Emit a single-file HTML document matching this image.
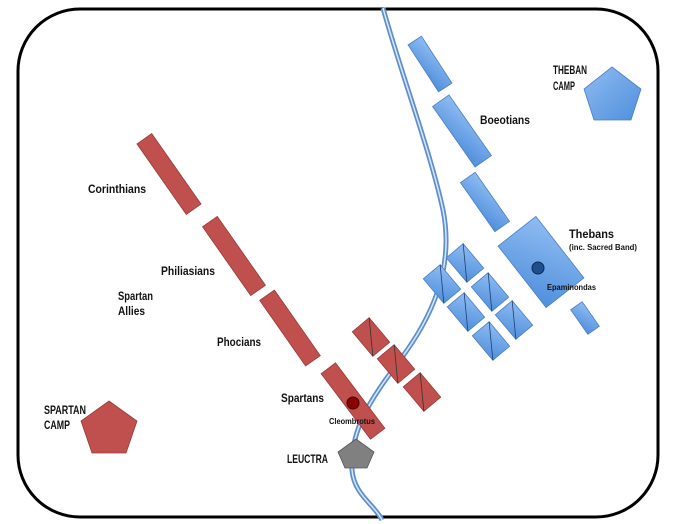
<!DOCTYPE html>
<html><head><meta charset="utf-8"><style>
html,body{margin:0;padding:0;background:#fff;}
svg{display:block;}
text{font-family:"Liberation Sans",sans-serif;font-weight:bold;fill:#111;}
</style></head><body>
<svg width="674" height="524" viewBox="0 0 674 524" xmlns="http://www.w3.org/2000/svg">
<defs>
<linearGradient id="bl" x1="0" y1="0" x2="1" y2="1"><stop offset="0" stop-color="#8fbcf2"/><stop offset="1" stop-color="#4f8fdc"/></linearGradient>
</defs>
<rect x="18" y="9" width="640" height="508" rx="62" fill="#fff" stroke="#000" stroke-width="3"/>
<g fill="none">
<path d="M383,8 C400,70 430,150 443,210 C455,270 430,320 400,360 C370,400 350,430 352,470 C354,495 375,505 382,520" stroke="#5b8fd0" stroke-width="5"/>
<path d="M383,8 C400,70 430,150 443,210 C455,270 430,320 400,360 C370,400 350,430 352,470 C354,495 375,505 382,520" stroke="#dce8f7" stroke-width="1.5"/>
</g>
<g fill="#c0504d" stroke="#9a3b39" stroke-width="0.8">
<rect x="-43" y="-9" width="86" height="18" transform="translate(169,174) rotate(55)"/>
<rect x="-42" y="-9" width="84" height="18" transform="translate(234,256) rotate(55)"/>
<rect x="-40" y="-9" width="80" height="18" transform="translate(290,328) rotate(55)"/>
<rect x="-41" y="-9" width="82" height="18" transform="translate(353,401) rotate(53)"/>
<g transform="translate(371,337) rotate(50)"><rect x="-16" y="-11" width="32" height="22"/><line x1="-16" y1="-11" x2="16" y2="11" stroke="#333"/></g>
<g transform="translate(396,364) rotate(50)"><rect x="-16" y="-11" width="32" height="22"/><line x1="-16" y1="-11" x2="16" y2="11" stroke="#333"/></g>
<g transform="translate(422,392) rotate(50)"><rect x="-16" y="-11" width="32" height="22"/><line x1="-16" y1="-11" x2="16" y2="11" stroke="#333"/></g>
<polygon points="109,401 137,421 126,453 92,453 81,421"/>
</g>
<circle cx="353" cy="403" r="6" fill="#8b0000" stroke="#400" stroke-width="1"/>
<g fill="url(#bl)" stroke="#4a7fc4" stroke-width="0.8">
<rect x="-28" y="-8" width="56" height="16" transform="translate(430,64) rotate(57)"/>
<rect x="-37" y="-10" width="74" height="20" transform="translate(462,131) rotate(55)"/>
<rect x="-30" y="-9" width="60" height="18" transform="translate(485,202) rotate(55)"/>
<rect x="-39" y="-24" width="78" height="48" transform="translate(541,262) rotate(52)"/>
<rect x="-15" y="-7" width="30" height="14" transform="translate(585,318) rotate(55)"/>
<g transform="translate(442,284) rotate(50)"><rect x="-16" y="-11" width="32" height="22"/><line x1="-16" y1="-11" x2="16" y2="11" stroke="#1f3f70"/></g>
<g transform="translate(465,263) rotate(50)"><rect x="-16" y="-11" width="32" height="22"/><line x1="-16" y1="-11" x2="16" y2="11" stroke="#1f3f70"/></g>
<g transform="translate(490,292) rotate(50)"><rect x="-16" y="-11" width="32" height="22"/><line x1="-16" y1="-11" x2="16" y2="11" stroke="#1f3f70"/></g>
<g transform="translate(466,312) rotate(50)"><rect x="-16" y="-11" width="32" height="22"/><line x1="-16" y1="-11" x2="16" y2="11" stroke="#1f3f70"/></g>
<g transform="translate(514,320) rotate(50)"><rect x="-16" y="-11" width="32" height="22"/><line x1="-16" y1="-11" x2="16" y2="11" stroke="#1f3f70"/></g>
<g transform="translate(491,341) rotate(50)"><rect x="-16" y="-11" width="32" height="22"/><line x1="-16" y1="-11" x2="16" y2="11" stroke="#1f3f70"/></g>
<polygon points="612,67 641,89 631,120 594,120 584,89"/>
</g>
<circle cx="538" cy="268" r="6" fill="#1f4e8c" stroke="#0d2a50" stroke-width="1"/>
<polygon points="356,439 374,452 367,468 345,468 338,452" fill="#808080" stroke="#555" stroke-width="0.8"/>
<text x="88" y="193" font-size="12" textLength="58" lengthAdjust="spacingAndGlyphs">Corinthians</text>
<text x="161" y="275" font-size="12" textLength="54" lengthAdjust="spacingAndGlyphs">Philiasians</text>
<text x="118" y="300" font-size="12" textLength="35" lengthAdjust="spacingAndGlyphs">Spartan</text>
<text x="118" y="315" font-size="12" textLength="27" lengthAdjust="spacingAndGlyphs">Allies</text>
<text x="217" y="346" font-size="12" textLength="44" lengthAdjust="spacingAndGlyphs">Phocians</text>
<text x="281" y="402" font-size="12" textLength="43" lengthAdjust="spacingAndGlyphs">Spartans</text>
<text x="329" y="424" font-size="8.5" textLength="46" lengthAdjust="spacingAndGlyphs">Cleombrotus</text>
<text x="287" y="463" font-size="12" textLength="41" lengthAdjust="spacingAndGlyphs">LEUCTRA</text>
<text x="44" y="414" font-size="12" textLength="42" lengthAdjust="spacingAndGlyphs">SPARTAN</text>
<text x="44" y="429" font-size="12" textLength="26" lengthAdjust="spacingAndGlyphs">CAMP</text>
<text x="480" y="124" font-size="12" textLength="50" lengthAdjust="spacingAndGlyphs">Boeotians</text>
<text x="553" y="74" font-size="12" textLength="34" lengthAdjust="spacingAndGlyphs">THEBAN</text>
<text x="553" y="90" font-size="12" textLength="22" lengthAdjust="spacingAndGlyphs">CAMP</text>
<text x="569" y="238" font-size="12" textLength="45" lengthAdjust="spacingAndGlyphs">Thebans</text>
<text x="569" y="250" font-size="8.5" textLength="68" lengthAdjust="spacingAndGlyphs">(inc. Sacred Band)</text>
<text x="547" y="290" font-size="8.5" textLength="49" lengthAdjust="spacingAndGlyphs">Epaminondas</text>
</svg>
</body></html>
